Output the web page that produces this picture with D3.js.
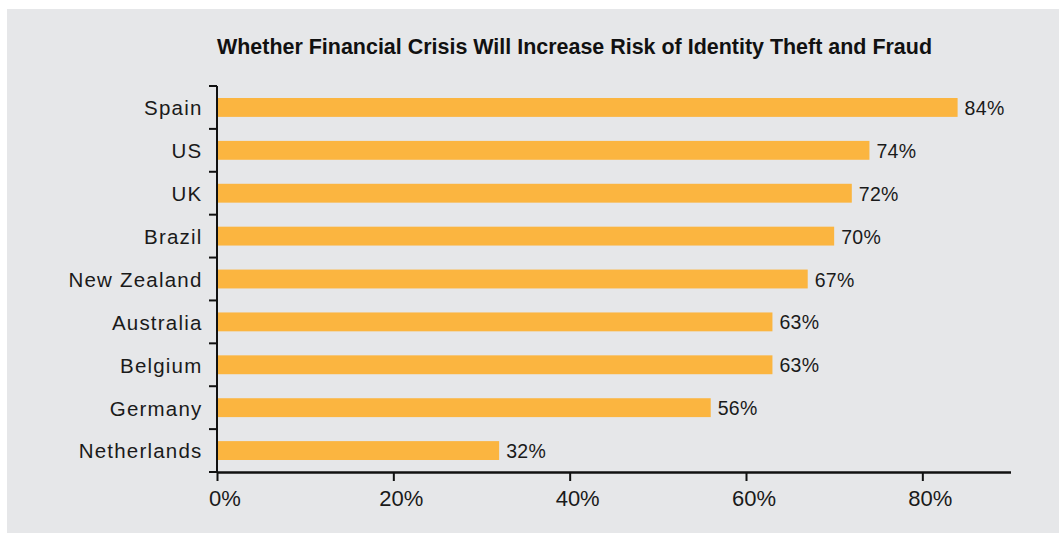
<!DOCTYPE html>
<html>
<head>
<meta charset="utf-8">
<script src="https://cdn.jsdelivr.net/npm/d3@7"></script>
<style>
  html, body { margin: 0; padding: 0; background: #ffffff; }
  svg { display: block; }
</style>
</head>
<body>
<svg id="chart" width="1061" height="533"></svg>
<script>
const categories = ["Spain", "US", "UK", "Brazil", "New Zealand", "Australia", "Belgium", "Germany", "Netherlands"];
const values = [84, 74, 72, 70, 67, 63, 63, 56, 32];
const xTicks = [0, 20, 40, 60, 80];
const title = "Whether Financial Crisis Will Increase Risk of Identity Theft and Fraud";

const svg = d3.select("#chart");
const W = 1061, H = 533;

svg.append("rect").attr("x", 7).attr("y", 9).attr("width", W - 9).attr("height", H - 9)
  .attr("fill", "#e6e7e9");

const x = d3.scaleLinear().domain([0, 90]).range([217, 1010.5]);
const y = d3.scaleBand().domain(categories).range([86, 472]).paddingInner(0.56).paddingOuter(0.28);

const data = categories.map((c, i) => ({ c, v: values[i] }));

// bars
svg.append("g").selectAll("rect").data(data).join("rect")
  .attr("x", x(0))
  .attr("y", d => y(d.c))
  .attr("width", d => x(d.v) - x(0))
  .attr("height", y.bandwidth())
  .attr("fill", "#fbb540");

// value labels
svg.append("g").selectAll("text").data(data).join("text")
  .attr("x", d => x(d.v) + 7)
  .attr("y", d => y(d.c) + y.bandwidth() / 2 + 0.5)
  .attr("dy", "0.36em")
  .attr("font-family", "'Liberation Sans', Arial, sans-serif")
  .attr("font-size", 19.5)
  .attr("letter-spacing", "0.3px")
  .attr("fill", "#1a1a1a")
  .text(d => d.v + "%");

// y axis (ticks at band boundaries)
const step = y.step();
const boundaries = categories.map(c => y(c) - y.paddingInner() * step / 2);
boundaries.push(472);
const yAxis = svg.append("g");
yAxis.append("line").attr("x1", 217).attr("x2", 217).attr("y1", 86).attr("y2", 473)
  .attr("stroke", "#111").attr("stroke-width", 2);
yAxis.selectAll("line.tick").data(boundaries).join("line").attr("class", "tick")
  .attr("x1", 209).attr("x2", 217).attr("y1", d => d).attr("y2", d => d)
  .attr("stroke", "#111").attr("stroke-width", 2);
yAxis.selectAll("text").data(categories).join("text")
  .attr("x", 202.5)
  .attr("y", d => y(d) + y.bandwidth() / 2 + 0.5)
  .attr("dy", "0.36em")
  .attr("text-anchor", "end")
  .attr("font-family", "'Liberation Sans', Arial, sans-serif")
  .attr("font-size", 20.5)
  .attr("letter-spacing", "1.2px")
  .attr("fill", "#1a1a1a")
  .text(d => d);

// x axis
const xAxis = svg.append("g").attr("transform", "translate(0,472)")
  .call(d3.axisBottom(x).tickValues(xTicks).tickFormat(d => d + "%").tickSize(9).tickPadding(9).tickSizeOuter(0));
xAxis.select(".domain").attr("stroke", "#111").attr("stroke-width", 2.5);
xAxis.selectAll(".tick line").attr("stroke", "#111").attr("stroke-width", 2);
xAxis.selectAll(".tick text")
  .attr("font-family", "'Liberation Sans', Arial, sans-serif")
  .attr("font-size", 22)
  .attr("fill", "#1a1a1a")
  .attr("dx", 7.5);

// title
svg.append("text")
  .attr("x", 574.5).attr("y", 53.5)
  .attr("text-anchor", "middle")
  .attr("font-family", "'Liberation Sans Narrow', 'Arial Narrow', 'Liberation Sans', sans-serif")
  .attr("font-weight", "bold")
  .attr("font-size", 22.5)
  .attr("textLength", 715)
  .attr("lengthAdjust", "spacingAndGlyphs")
  .attr("fill", "#111")
  .text(title);
</script>
</body>
</html>
